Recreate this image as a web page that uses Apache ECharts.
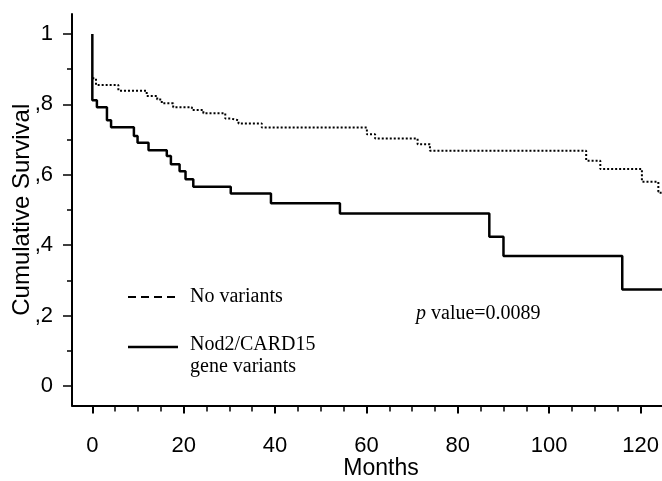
<!DOCTYPE html>
<html>
<head>
<meta charset="utf-8">
<script src="https://cdn.jsdelivr.net/npm/echarts@6/dist/echarts.min.js"></script>
<style>
  html, body { margin: 0; padding: 0; background: #fff; }
  #chart { width: 662px; height: 481px; }
</style>
</head>
<body>
<div id="chart"></div>
<script>
// Kaplan-Meier curves (months, cumulative survival)
const variantMonths = [0, 0, 1, 3.2, 4.1, 9.1, 9.9, 12.3, 16.3, 17.2, 19.1, 20.4, 22.1, 30.3, 39.1, 54.2, 86.9, 90.0, 116.0, 125];
const variantSurv   = [1.0, 0.812, 0.792, 0.755, 0.735, 0.71, 0.691, 0.670, 0.653, 0.630, 0.610, 0.587, 0.566, 0.547, 0.519, 0.490, 0.424, 0.369, 0.274, 0.274];

const noVarMonths = [0, 0.8, 5.7, 11.9, 14.2, 15.2, 17.7, 21.8, 24.3, 29.1, 30.2, 32.0, 37.1, 60.1, 61.9, 71.2, 73.9, 108.1, 111.2, 120.3, 123.9, 124.4];
const noVarSurv   = [0.874, 0.855, 0.839, 0.824, 0.814, 0.803, 0.792, 0.784, 0.775, 0.760, 0.755, 0.746, 0.734, 0.715, 0.703, 0.687, 0.668, 0.640, 0.616, 0.580, 0.552, 0.545];

const xTicks = [0, 20, 40, 60, 80, 100, 120];
const xMinorTicks = [5, 10, 15, 25, 30, 35, 45, 50, 55, 65, 70, 75, 85, 90, 95, 105, 110, 115];
const yTicks = [0, 0.2, 0.4, 0.6, 0.8, 1];
const yMinorTicks = [0.1, 0.3, 0.5, 0.7, 0.9];

const legendNames = ['No variants', 'Nod2/CARD15', 'gene variants'];
const pText = 'value=0.0089';

const xMin = -4.45, xMax = 124.7;
const yMin = -0.056, yMax = 1.057;

function pairs(xs, ys) {
  return xs.map((x, i) => [x, ys[i]]);
}

function yLabel(v) {
  if (Math.abs(v) < 1e-9) return '0';
  if (Math.abs(v - 1) < 1e-9) return '1';
  return ',' + Math.round(v * 10);
}

const sans = 'Liberation Sans, Arial, sans-serif';
const serif = 'Liberation Serif, Times New Roman, serif';

let myChart = echarts.init(document.getElementById('chart'));
let option = {
  animation: false,
  backgroundColor: '#fff',
  grid: { left: 72, right: 0, top: 14, bottom: 75.5, containLabel: false, outerBoundsMode: 'none' },
  xAxis: [{
    type: 'value',
    min: xMin,
    max: xMax,
    name: 'Months',
    nameLocation: 'middle',
    nameGap: 52,
    nameMoveOverlap: false,
    nameTextStyle: { fontFamily: sans, fontSize: 23, color: '#000', padding: [0, 0, 0, 28] },
    splitLine: { show: false },
    axisLine: { show: true, onZero: false, lineStyle: { color: '#000', width: 2 } },
    axisTick: { show: true, customValues: xTicks, length: 8, lineStyle: { color: '#000', width: 2 } },
    axisLabel: { customValues: xTicks, margin: 29, fontFamily: sans, fontSize: 22, color: '#000' }
  }, {
    type: 'value',
    min: xMin,
    max: xMax,
    position: 'bottom',
    gridIndex: 0,
    splitLine: { show: false },
    axisLine: { show: false, onZero: false },
    axisTick: { show: true, customValues: xMinorTicks, length: 6, lineStyle: { color: '#000', width: 1.5 } },
    axisLabel: { show: false }
  }],
  yAxis: [{
    type: 'value',
    min: yMin,
    max: yMax,
    name: 'Cumulative Survival',
    nameLocation: 'middle',
    nameGap: 38,
    nameMoveOverlap: false,
    nameTextStyle: { fontFamily: sans, fontSize: 24, color: '#000' },
    splitLine: { show: false },
    axisLine: { show: true, onZero: false, lineStyle: { color: '#000', width: 2 } },
    axisTick: { show: true, customValues: yTicks, length: 9, lineStyle: { color: '#000', width: 1.5 } },
    axisLabel: { customValues: yTicks, margin: 19, fontFamily: sans, fontSize: 22, color: '#000', formatter: yLabel }
  }, {
    type: 'value',
    min: yMin,
    max: yMax,
    position: 'left',
    splitLine: { show: false },
    axisLine: { show: false, onZero: false },
    axisTick: { show: true, customValues: yMinorTicks, length: 5, lineStyle: { color: '#000', width: 1.5 } },
    axisLabel: { show: false }
  }],
  series: [{
    name: 'No variants',
    type: 'line',
    step: 'end',
    symbol: 'none',
    data: pairs(noVarMonths, noVarSurv),
    lineStyle: { color: '#000', width: 2, type: [2, 2] }
  }, {
    name: 'Nod2/CARD15 gene variants',
    type: 'line',
    step: 'end',
    symbol: 'none',
    data: pairs(variantMonths, variantSurv),
    lineStyle: { color: '#000', width: 2.5 }
  }],
  graphic: [
    { type: 'line', shape: { x1: 128, y1: 297, x2: 178, y2: 297 },
      style: { stroke: '#000', lineWidth: 2, lineDash: [8, 5] } },
    { type: 'text', left: 190, top: 287,
      style: { text: legendNames[0], font: '20px ' + serif, fill: '#000' } },
    { type: 'line', shape: { x1: 128, y1: 347, x2: 178, y2: 347 },
      style: { stroke: '#000', lineWidth: 2.5 } },
    { type: 'text', left: 190, top: 335,
      style: { text: legendNames[1], font: '20px ' + serif, fill: '#000' } },
    { type: 'text', left: 190, top: 357,
      style: { text: legendNames[2], font: '20px ' + serif, fill: '#000' } },
    { type: 'text', left: 416, top: 304,
      style: {
        text: '{i|p} ' + pText,
        font: '20px ' + serif,
        fill: '#000',
        rich: { i: { fontStyle: 'italic', fontFamily: serif, fontSize: 20, fill: '#000' } }
      } }
  ]
};
myChart.setOption(option);
</script>
</body>
</html>
